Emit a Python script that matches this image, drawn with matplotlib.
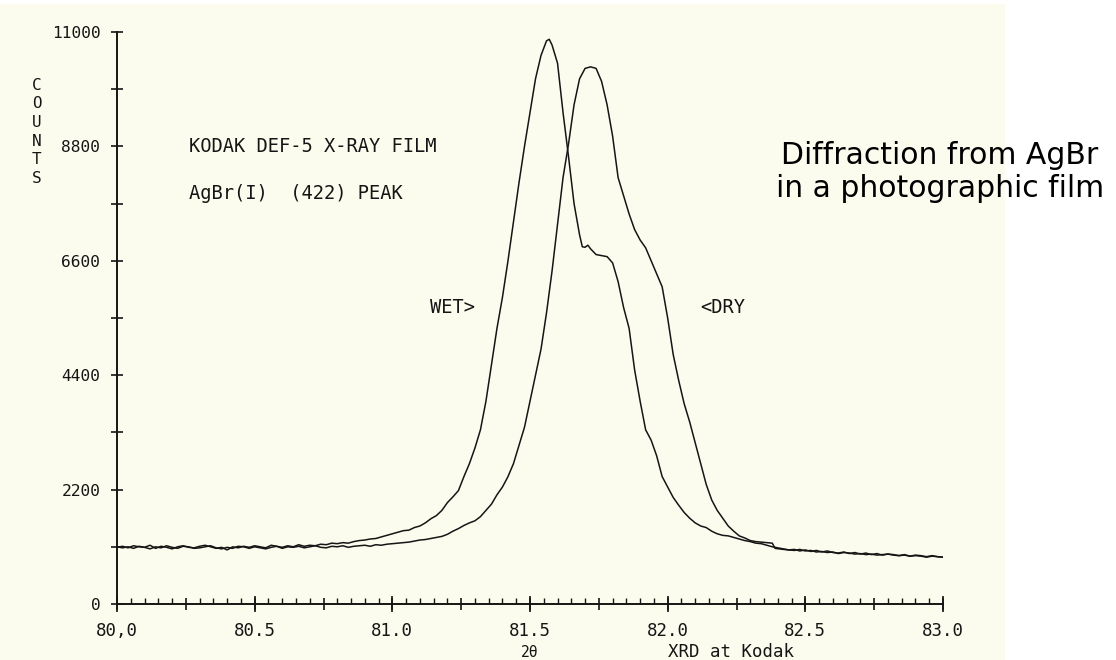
import matplotlib
matplotlib.use("Agg")
import matplotlib.pyplot as plt
from matplotlib.patches import Rectangle
from matplotlib.ticker import MultipleLocator, FixedLocator, FuncFormatter

# ---- data ----
wet_x = [80.00, 80.02, 80.04, 80.06, 80.08, 80.10, 80.12, 80.14, 80.16, 80.18,
         80.20, 80.22, 80.24, 80.26, 80.28, 80.30, 80.32, 80.34, 80.36, 80.38,
         80.40, 80.42, 80.44, 80.46, 80.48, 80.50, 80.52, 80.54, 80.56, 80.58,
         80.60, 80.62, 80.64, 80.66, 80.68, 80.70, 80.72, 80.74, 80.76, 80.78,
         80.80, 80.82, 80.84, 80.86, 80.88, 80.90, 80.92, 80.94, 80.96, 80.98,
         81.00, 81.02, 81.04, 81.06, 81.08, 81.10, 81.12, 81.14, 81.16, 81.18,
         81.20, 81.22, 81.24, 81.26, 81.28, 81.30, 81.32, 81.34, 81.36, 81.38,
         81.40, 81.42, 81.44, 81.46, 81.48, 81.50, 81.52, 81.54, 81.56, 81.57,
         81.58, 81.60, 81.62, 81.64, 81.66, 81.68, 81.69, 81.70, 81.71, 81.72,
         81.74, 81.76, 81.78, 81.80, 81.82, 81.84, 81.86, 81.88, 81.90, 81.92,
         81.94, 81.96, 81.98, 82.00, 82.02, 82.04, 82.06, 82.08, 82.10, 82.12,
         82.14, 82.16, 82.18, 82.20, 82.22, 82.24, 82.26, 82.28, 82.30, 82.32,
         82.34, 82.36, 82.38, 82.40, 82.42, 82.44, 82.46, 82.48, 82.50, 82.52,
         82.54, 82.56, 82.58, 82.60, 82.62, 82.64, 82.66, 82.68, 82.70, 82.72,
         82.74, 82.76, 82.78, 82.80, 82.82, 82.84, 82.86, 82.88, 82.90, 82.92,
         82.94, 82.96, 82.98, 83.00]
wet_y = [1090, 1110, 1080, 1120, 1100, 1090, 1130, 1070, 1110, 1090,
         1060, 1100, 1120, 1090, 1080, 1110, 1130, 1100, 1070, 1090,
         1040, 1100, 1080, 1110, 1090, 1120, 1100, 1080, 1130, 1110,
         1090, 1120, 1100, 1140, 1110, 1130, 1120, 1150, 1140, 1170,
         1160, 1180, 1170, 1200, 1220, 1230, 1250, 1260, 1290, 1320,
         1350, 1380, 1410, 1420, 1470, 1500, 1560, 1640, 1700, 1800,
         1950, 2060, 2180, 2450, 2700, 3000, 3350, 3900, 4600, 5300,
         5900, 6600, 7350, 8100, 8800, 9450, 10100, 10550, 10830, 10860,
         10750, 10400, 9450, 8600, 7700, 7100, 6870, 6860, 6900, 6830,
         6720, 6700, 6680, 6560, 6200, 5700, 5300, 4500, 3900, 3350,
         3150, 2850, 2450, 2250, 2050, 1900, 1760, 1650, 1560, 1500,
         1470, 1400, 1350, 1320, 1310, 1280, 1250, 1220, 1200, 1170,
         1160, 1130, 1100, 1080, 1060, 1040, 1050, 1020, 1040, 1010,
         1030, 1000, 1020, 990, 980, 1000, 970, 990, 960, 980,
         950, 970, 940, 960, 950, 930, 950, 920, 940, 930,
         910, 930, 910, 900]

dry_x = [80.00, 80.02, 80.04, 80.06, 80.08, 80.10, 80.12, 80.14, 80.16, 80.18,
         80.20, 80.22, 80.24, 80.26, 80.28, 80.30, 80.32, 80.34, 80.36, 80.38,
         80.40, 80.42, 80.44, 80.46, 80.48, 80.50, 80.52, 80.54, 80.56, 80.58,
         80.60, 80.62, 80.64, 80.66, 80.68, 80.70, 80.72, 80.74, 80.76, 80.78,
         80.80, 80.82, 80.84, 80.86, 80.88, 80.90, 80.92, 80.94, 80.96, 80.98,
         81.00, 81.02, 81.04, 81.06, 81.08, 81.10, 81.12, 81.14, 81.16, 81.18,
         81.20, 81.22, 81.24, 81.26, 81.28, 81.30, 81.32, 81.34, 81.36, 81.38,
         81.40, 81.42, 81.44, 81.46, 81.48, 81.50, 81.52, 81.54, 81.56, 81.58,
         81.60, 81.62, 81.64, 81.66, 81.68, 81.70, 81.72, 81.74, 81.76, 81.78,
         81.80, 81.82, 81.84, 81.86, 81.88, 81.90, 81.92, 81.94, 81.96, 81.98,
         82.00, 82.02, 82.04, 82.06, 82.08, 82.10, 82.12, 82.14, 82.16, 82.18,
         82.20, 82.22, 82.24, 82.26, 82.28, 82.30, 82.32, 82.34, 82.36, 82.38,
         82.39, 82.42, 82.44, 82.46, 82.48, 82.50, 82.52, 82.54, 82.56, 82.58,
         82.60, 82.62, 82.64, 82.66, 82.68, 82.70, 82.72, 82.74, 82.76, 82.78,
         82.80, 82.82, 82.84, 82.86, 82.88, 82.90, 82.92, 82.94, 82.96, 82.98,
         83.00]
dry_y = [1100, 1080, 1100, 1070, 1110, 1090, 1060, 1100, 1080, 1120,
         1090, 1070, 1110, 1100, 1070, 1080, 1100, 1120, 1080, 1060,
         1090, 1070, 1110, 1100, 1070, 1100, 1080, 1060, 1090, 1110,
         1070, 1100, 1090, 1110, 1080, 1100, 1120, 1090, 1080, 1110,
         1100, 1120, 1090, 1110, 1120, 1130, 1110, 1140, 1130, 1150,
         1160, 1170, 1180, 1190, 1210, 1230, 1240, 1260, 1280, 1300,
         1340, 1400, 1450, 1510, 1560, 1600, 1680, 1800, 1920, 2100,
         2250, 2450, 2700, 3050, 3400, 3900, 4400, 4900, 5600, 6400,
         7300, 8200, 8850, 9600, 10100, 10300, 10330, 10300, 10050, 9600,
         9000, 8200, 7850, 7500, 7200, 7000, 6850, 6600, 6350, 6100,
         5500, 4800, 4300, 3850, 3500, 3100, 2700, 2300, 2000, 1800,
         1650, 1500, 1400, 1310, 1270, 1220, 1200, 1190, 1180, 1170,
         1070, 1050, 1040, 1030, 1050, 1020, 1030, 1000, 1010, 990,
         1000, 970, 990, 980, 960, 970, 950, 960, 940, 950,
         960, 940, 930, 940, 920, 930, 920, 900, 920, 910,
         900]

y_ticks = [0, 2200, 4400, 6600, 8800, 11000]
x_ticks = [80.0, 80.5, 81.0, 81.5, 82.0, 82.5, 83.0]
x_tick_labels = ["80,0", "80.5", "81.0", "81.5", "82.0", "82.5", "83.0"]

W, H = 1116, 660
fig = plt.figure(figsize=(W / 100, H / 100), dpi=100, facecolor="white")
cream = "#fcfcee"
fig.patches.append(Rectangle((0, 0), 1005 / W, (H - 4) / H, transform=fig.transFigure,
                             facecolor=cream, edgecolor="none", zorder=-10))

ax = fig.add_axes([117 / W, (H - 604) / H, (943 - 117) / W, (604 - 32) / H])
ax.set_facecolor("none")
ink = "#151515"
mono = "DejaVu Sans Mono"

ax.plot(wet_x, wet_y, color=ink, lw=1.1)
ax.plot(dry_x, dry_y, color=ink, lw=1.1)

ax.set_xlim(80.0, 83.0)
ax.set_ylim(0, 11000)
for s in ("top", "right"):
    ax.spines[s].set_visible(False)
for s in ("left", "bottom"):
    ax.spines[s].set_linewidth(1.4)
    ax.spines[s].set_color(ink)

# y ticks
ax.yaxis.set_major_locator(FixedLocator(y_ticks))
ax.yaxis.set_minor_locator(MultipleLocator(1100))
ax.tick_params(axis="y", which="both", direction="inout", length=8, width=1.2,
               color=ink, labelsize=11.7, labelcolor=ink, pad=8)
for t in ax.get_yticklabels():
    t.set_fontfamily(mono)

# x ticks: major every 0.25 (labels every 0.5), minor every 0.05
ax.xaxis.set_major_locator(MultipleLocator(0.25))
ax.xaxis.set_minor_locator(MultipleLocator(0.05))
lab = dict(zip([round(v, 2) for v in x_ticks], x_tick_labels))
ax.xaxis.set_major_formatter(FuncFormatter(lambda v, p: lab.get(round(v, 2), "")))
ax.tick_params(axis="x", which="major", direction="inout", length=8, width=1.2,
               color=ink, labelsize=12.5, labelcolor=ink, pad=9)
ax.tick_params(axis="x", which="minor", direction="in", length=4, width=1.0, color=ink)
for t in ax.get_xticklabels():
    t.set_fontfamily(mono)

sec = ax.secondary_xaxis("bottom")
sec.spines["bottom"].set_visible(False)
sec.set_xticks(x_ticks)
sec.set_xticklabels([])
sec.tick_params(direction="inout", length=11, width=1.2, color=ink)

# axis titles
ax.text(-0.097, 0.92, "C\nO\nU\nN\nT\nS", transform=ax.transAxes, family=mono,
        fontsize=11.5, color=ink, ha="center", va="top", linespacing=1.3)
ax.text(81.5, -0.072, "2θ", transform=ax.get_xaxis_transform(), family=mono,
        fontsize=10.5, color=ink, ha="center", va="top")
ax.text(82.23, -0.068, "XRD at Kodak", transform=ax.get_xaxis_transform(), family=mono,
        fontsize=12.5, color=ink, ha="center", va="top")

# annotations
ax.text(80.26, 8800, "KODAK DEF-5 X-RAY FILM", family=mono, fontsize=13.5,
        color=ink, ha="left", va="center")
ax.text(80.26, 7900, "AgBr(I)  (422) PEAK", family=mono, fontsize=13.5,
        color=ink, ha="left", va="center")
ax.text(81.135, 5710, "WET>", family=mono, fontsize=13.5, color=ink,
        ha="left", va="center")
ax.text(82.12, 5710, "<DRY", family=mono, fontsize=13.5, color=ink,
        ha="left", va="center")

fig.text(940 / W, 1 - 172 / H, "Diffraction from AgBr\nin a photographic film",
         fontsize=21.5, color="black", ha="center", va="center", family="DejaVu Sans",
         linespacing=1.15)

fig.savefig("out.png", dpi=100, facecolor="white")
